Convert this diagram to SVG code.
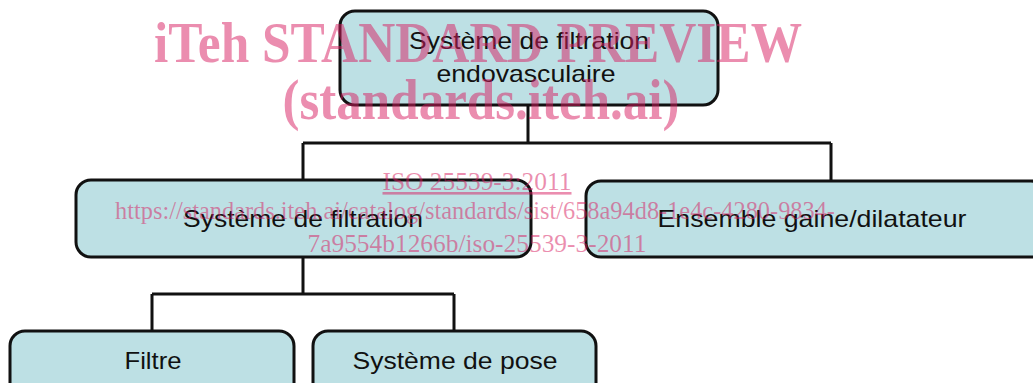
<svg xmlns="http://www.w3.org/2000/svg" width="1033" height="383" viewBox="0 0 1033 383">
  <style>
    .box { fill: #bde0e4; stroke: #111; stroke-width: 3; }
    .lbl { font-family: "Liberation Sans", Arial, sans-serif; font-size: 24px; fill: #111; text-anchor: middle; }
    .wire { fill: none; stroke: #111; stroke-width: 3; stroke-linejoin: miter; }
    .wm-big { font-family: "Liberation Serif", "Times New Roman", serif; font-weight: bold; font-size: 56px; fill: #d81b60; fill-opacity: 0.5; text-anchor: middle; }
    .wm-small { font-family: "Liberation Serif", "Times New Roman", serif; font-size: 26px; fill: #d81b60; fill-opacity: 0.5; text-anchor: middle; }
  </style>
  <rect width="1033" height="383" fill="#ffffff"/>

  <!-- connectors -->
  <g id="connectors">
    <path class="wire" d="M528 105 V143 M303 143 H831 M303 143 V181 M831 143 V181"/>
    <path class="wire" d="M303 257 V294 M152 294 H454 M152 294 V331 M454 294 V331"/>
  </g>

  <!-- root -->
  <g id="node-root">
    <rect class="box" x="340" y="11" width="378" height="94" rx="15"/>
    <text class="lbl" x="529" y="49" textLength="240" lengthAdjust="spacingAndGlyphs">Système de filtration</text>
    <text class="lbl" x="526" y="82" textLength="179" lengthAdjust="spacingAndGlyphs">endovasculaire</text>
  </g>

  <!-- level 2 -->
  <g id="node-filtration">
    <rect class="box" x="76" y="180" width="455" height="77" rx="15"/>
    <text class="lbl" x="303" y="227" textLength="240" lengthAdjust="spacingAndGlyphs">Système de filtration</text>
  </g>
  <g id="node-gaine">
    <rect class="box" x="586" y="181" width="460" height="76" rx="15"/>
    <text class="lbl" x="812" y="227" textLength="309" lengthAdjust="spacingAndGlyphs">Ensemble gaine/dilatateur</text>
  </g>

  <!-- level 3 -->
  <g id="node-filtre">
    <rect class="box" x="10" y="331" width="284" height="70" rx="15"/>
    <text class="lbl" x="153" y="369" textLength="57" lengthAdjust="spacingAndGlyphs">Filtre</text>
  </g>
  <g id="node-pose">
    <rect class="box" x="313" y="331" width="283" height="70" rx="15"/>
    <text class="lbl" x="455" y="369" textLength="205" lengthAdjust="spacingAndGlyphs">Système de pose</text>
  </g>

  <!-- overprinted stamp -->
  <g id="stamp">
    <text class="wm-big" x="478" y="62" textLength="648" lengthAdjust="spacingAndGlyphs">iTeh STANDARD PREVIEW</text>
    <text class="wm-big" x="481" y="119" textLength="397" lengthAdjust="spacingAndGlyphs">(standards.iteh.ai)</text>
    <text class="wm-small" x="477" y="190" text-decoration="underline" textLength="189" lengthAdjust="spacingAndGlyphs">ISO 25539-3:2011</text>
    <text class="wm-small" x="475" y="219" textLength="720" lengthAdjust="spacingAndGlyphs">https://standards.iteh.ai/catalog/standards/sist/658a94d8-1e4c-4280-9834-</text>
    <text class="wm-small" x="477" y="252" textLength="339" lengthAdjust="spacingAndGlyphs">7a9554b1266b/iso-25539-3-2011</text>
  </g>
</svg>
